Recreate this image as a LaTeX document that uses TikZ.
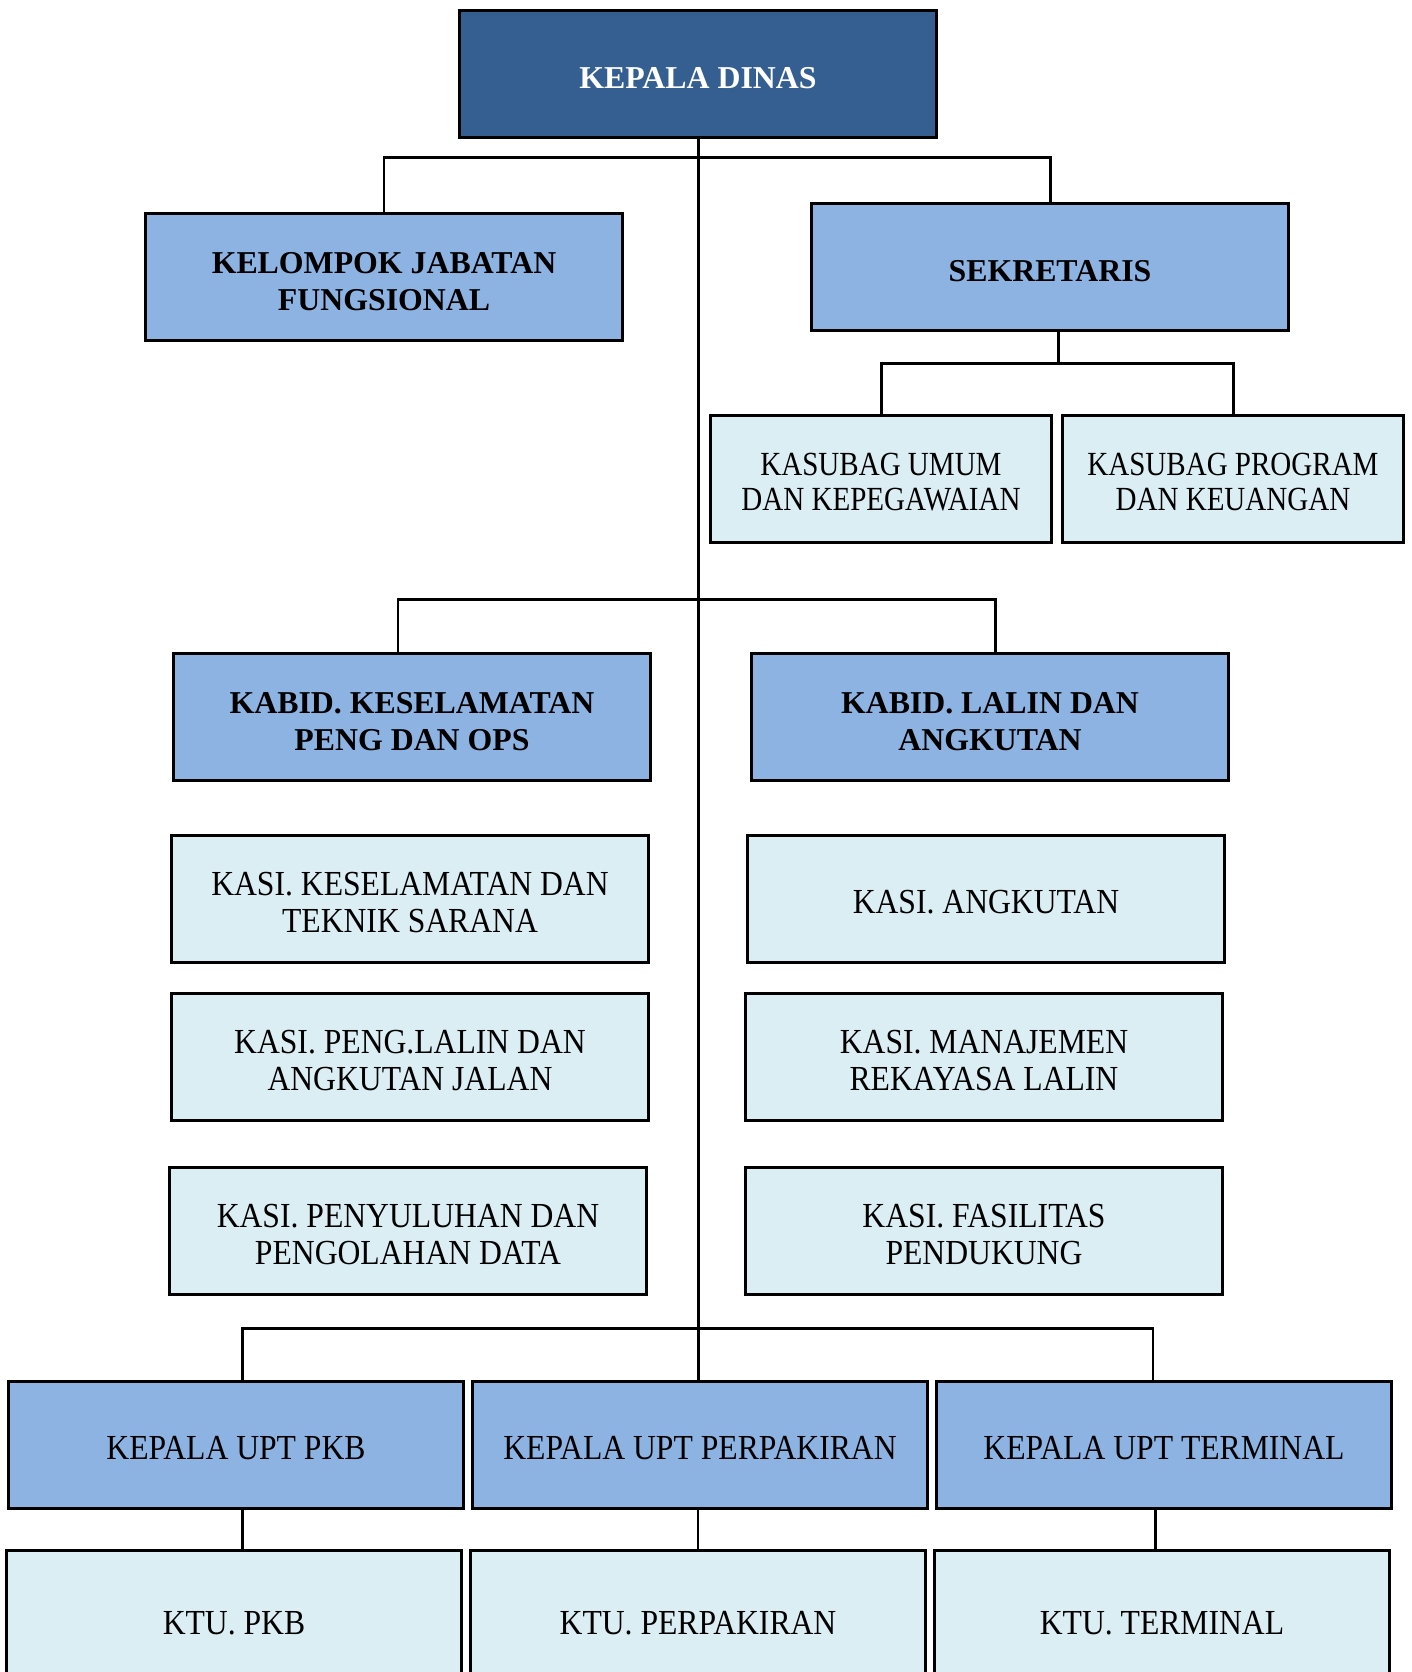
\documentclass[tikz,border=0pt]{standalone}
\usepackage{fontspec}
\setmainfont{Liberation Serif}
\newfontfamily\kasifont{Liberation Serif}[FakeStretch=0.9]
\newfontfamily\kasubagfont{Liberation Serif}[FakeStretch=0.86]
\usepackage{tikz}
\usepackage{xcolor}
\definecolor{kadisblue}{HTML}{365F91}
\definecolor{kabidblue}{HTML}{8DB3E2}
\definecolor{kasiblue}{HTML}{DBEEF3}

\begin{document}
\begin{tikzpicture}[x=0.01cm, y=-0.01cm,
    box/.style={draw=black, line width=0.9pt, align=flush center, inner sep=0pt,
        text width=4.4cm, minimum width=4.77cm, minimum height=1.27cm,
        execute at begin node={\rule{0pt}{0.86em}},
        font=\kasifont\fontsize{10}{10.4}\selectfont},
    kadisbox/.style={box, fill=kadisblue, text=white,
        execute at begin node={\rule{0pt}{0.95em}},
        font=\fontsize{9.05}{10.6}\selectfont\bfseries},
    kabidbox/.style={box, fill=kabidblue,
        execute at begin node={\rule{0pt}{0.95em}},
        font=\fontsize{9.05}{10.6}\selectfont\bfseries},
    kasibox/.style={box, fill=kasiblue},
    kasubagbox/.style={kasibox, text width=3.2cm, minimum width=3.41cm,
        font=\kasubagfont\fontsize{9.6}{10}\selectfont},
    uptbox/.style={box, fill=kabidblue, text width=4.3cm, minimum width=4.54cm},
    ktubox/.style={box, fill=kasiblue, text width=4.3cm, minimum width=4.54cm,
        minimum height=1.39cm},
    link/.style={draw=black, line width=0.85pt}]
        \clip (0,0) rectangle (1411,1672);
        \fill[white] (0,0) rectangle (1411,1672);
        % pimpinan
        \node[kadisbox] (kadis) at (698,74) {KEPALA DINAS};
        \node[kabidbox] (kel) at (384,277) {KELOMPOK JABATAN\\FUNGSIONAL};
        \node[kabidbox] (sek) at (1050,267) {SEKRETARIS};
        \node[kasubagbox] (umum) at (881,479) {KASUBAG UMUM\\DAN KEPEGAWAIAN};
        \node[kasubagbox] (prog) at (1233,479) {KASUBAG PROGRAM\\DAN KEUANGAN};
        % bidang
        \node[kabidbox] (kb1) at (412,717) {KABID. KESELAMATAN\\PENG DAN OPS};
        \node[kabidbox] (kb2) at (990,717) {KABID. LALIN DAN\\ANGKUTAN};
        \foreach \n/\x/\y/\t in {ks1/410/899/{KASI. KESELAMATAN DAN\\TEKNIK SARANA},
            ks2/986/899/{KASI. ANGKUTAN},
            ks3/410/1057/{KASI. PENG.LALIN DAN\\ANGKUTAN JALAN},
            ks4/984/1057/{KASI. MANAJEMEN\\REKAYASA LALIN},
            ks5/408/1231/{KASI. PENYULUHAN DAN\\PENGOLAHAN DATA},
            ks6/984/1231/{KASI. FASILITAS\\PENDUKUNG}}{
        \node[kasibox] (\n) at (\x,\y) {\t};}
        % upt
        \node[uptbox] (upt1) at (236,1445) {KEPALA UPT PKB};
        \node[uptbox] (upt2) at (700,1445) {KEPALA UPT PERPAKIRAN};
        \node[uptbox] (upt3) at (1164,1445) {KEPALA UPT TERMINAL};
        \node[ktubox] (ktu1) at (234,1620) {KTU. PKB};
        \node[ktubox] (ktu2) at (698,1620) {KTU. PERPAKIRAN};
        \node[ktubox] (ktu3) at (1162,1620) {KTU. TERMINAL};
        % garis
        \coordinate (j1) at (698,157);
        \coordinate (j2) at (1058,363);
        \coordinate (j3) at (698,599);
        \coordinate (j4) at (698,1328);
        \draw[link] (kadis.south) -- (kadis.south |- upt2.north);
        \draw[link] (kel.north) |- (j1) -| (sek.north);
        \draw[link] (sek.south -| j2) -- (j2);
        \draw[link] (umum.north) |- (j2) -| (prog.north);
        \draw[link] ([xshift=-0.14cm]kb1.north) |- (j3) -| ([xshift=0.05cm]kb2.north);
        \draw[link] ([xshift=0.06cm]upt1.north) |- (j4) -| ([xshift=-0.11cm]upt3.north);
        \foreach \u/\k/\s in {upt1/ktu1/0.06cm, upt2/ktu2/-0.02cm, upt3/ktu3/-0.09cm}{
        \draw[link] ([xshift=\s]\u.south) -- ([xshift=\s]\u.south |- \k.north);}
\end{tikzpicture}
\end{document}
